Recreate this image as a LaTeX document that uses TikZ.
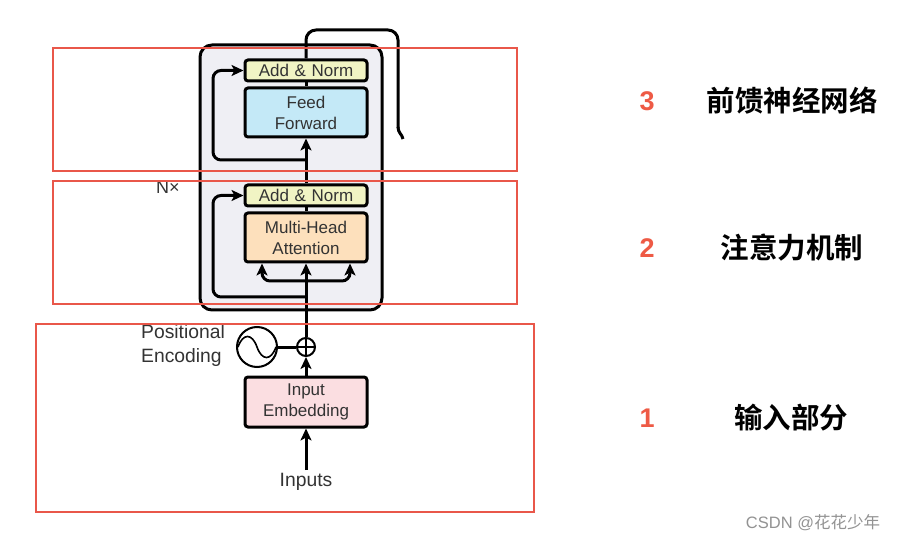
\documentclass[tikz,border=0pt]{standalone}
\usepackage{fontspec}
\setmainfont{Liberation Sans}
\newfontfamily\cjk{Noto Sans CJK SC}[BoldFont={* Bold}]
\usetikzlibrary{arrows.meta}
\definecolor{redline}{HTML}{E9574A}
\definecolor{rednum}{HTML}{EE5A45}
\definecolor{encfill}{HTML}{EFEFF4}
\definecolor{normfill}{HTML}{F1F4C4}
\definecolor{fffill}{HTML}{C4E9F7}
\definecolor{mhafill}{HTML}{FDE0BC}
\definecolor{embfill}{HTML}{FBDEE1}
\definecolor{txt}{HTML}{333333}
\tikzset{
  sect/.style={draw=redline, line width=1.9bp},
  blk/.style={draw=black, line width=3bp, rounded corners=3bp, minimum width=122bp, text width=118bp, align=center, inner sep=0pt, text=txt, font=\fontsize{17bp}{21bp}\selectfont},
  flow/.style={line width=3bp, -{Stealth[length=12bp,width=11bp,inset=3bp]}},
  wire/.style={line width=3bp},
  lbl/.style={text=txt, font=\fontsize{19.3bp}{24bp}\selectfont, inner sep=0pt},
  num/.style={text=rednum, font=\fontsize{27bp}{30bp}\selectfont\bfseries, inner sep=0pt},
  zh/.style={text=black, font=\fontsize{28.5bp}{30bp}\selectfont\cjk\bfseries, inner sep=0pt}
}
\begin{document}
\begin{tikzpicture}[x=1bp,y=-1bp]
\useasboundingbox (0,0) rectangle (897,543);
\fill[white] (0,0) rectangle (897,543);
% encoder box
\draw[fill=encfill, line width=3bp, rounded corners=12bp] (200,45) rectangle (382,310);
% blocks
\node[blk, fill=normfill, minimum height=21bp] (an2) at (306,70.5) {Add \& Norm};
\node[blk, fill=fffill, minimum height=49bp] (ff) at (306,112.5) {Feed\\Forward};
\node[blk, fill=normfill, minimum height=21bp] (an1) at (306,195.5) {Add \& Norm};
\node[blk, fill=mhafill, minimum height=49bp] (mha) at (306,237.5) {Multi-Head\\Attention};
\node[blk, fill=embfill, minimum height=50bp] (emb) at (306,402) {Input\\Embedding};
% plus and sine
\node[draw, circle, line width=2bp, minimum size=18bp, inner sep=0pt, fill=white] (plus) at (306,347) {};
\draw[line width=1.6bp] (plus.north) -- (plus.south) (plus.west) -- (plus.east);
\node[draw, circle, line width=2bp, minimum size=40bp, inner sep=0pt, fill=white] (pe) at (257,347) {};
\draw[line width=1.6bp] ([xshift=-19bp]pe.center) .. controls (243,333) and (252,333) .. (pe.center) .. controls (262,361) and (271,361) .. ([xshift=19bp]pe.center);
\draw[wire] (pe.east) -- (plus.west);
\node[lbl, align=left, anchor=west] (pelbl) at (141,346) {Positional\\Encoding};
\node[lbl] (inp) at (306,482) {Inputs};
\node[lbl, font=\fontsize{18bp}{20bp}\selectfont] (nx) at (168,187) {N×};
% coordinates
\coordinate (inb) at (306,470);
\coordinate (split) at (306,281);
\coordinate (res1) at (306,297);
\coordinate (res2) at (306,160);
% flows
\draw[flow] (inb) -- (emb.south);
\draw[flow] (emb.north) -- (plus.south);
\draw[flow] (plus.north) -- (mha.south);
\draw[flow, rounded corners=8bp] (split) -| ([xshift=-44bp]mha.south);
\draw[flow, rounded corners=8bp] (split) -| ([xshift=44bp]mha.south);
\draw[flow, rounded corners=8bp] (res1) -| (213,230) |- (an1.west);
\draw[wire] (mha.north) -- (an1.south);
\draw[flow] (an1.north) -- (ff.south);
\draw[flow, rounded corners=8bp] (res2) -| (213,110) |- (an2.west);
\draw[wire] (ff.north) -- (an2.south);
\draw[wire, rounded corners=10bp] (an2.north) -- (306,30) -- (398,30) -- (398,128);
\draw[wire] (398,127) .. controls (398,133) and (402,134) .. (403,139);
% section rectangles
\draw[sect] (53,48) rectangle (517,171);
\draw[sect] (53,181) rectangle (517,304);
\draw[sect] (36,324) rectangle (534,512);
% right labels
\node[num] (n3) at (647,101) {3};
\node[zh] (t3) at (792,101) {前馈神经网络};
\node[num] (n2) at (647,248) {2};
\node[zh] (t2) at (792,248) {注意力机制};
\node[num] (n1) at (647,418) {1};
\node[zh] (t1) at (791,418) {输入部分};
\node[text=gray!85, font=\fontsize{16.5bp}{18bp}\selectfont, inner sep=0pt] (wm) at (813,523) {CSDN @{\cjk 花花少年}};
\end{tikzpicture}
\end{document}
